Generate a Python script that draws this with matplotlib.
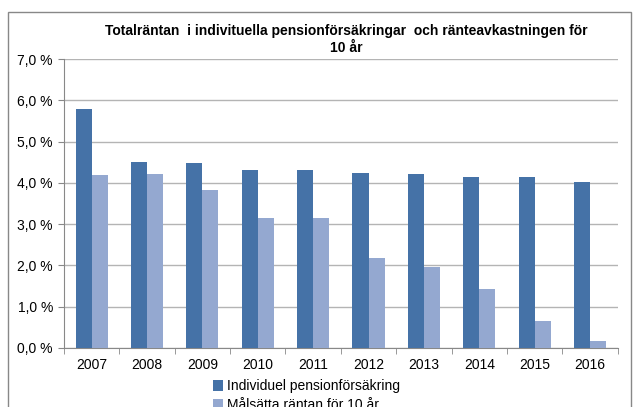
import numpy as np
import matplotlib.pyplot as plt
from matplotlib.patches import Rectangle

years = ['2007', '2008', '2009', '2010', '2011', '2012', '2013', '2014', '2015', '2016']
individuel = [5.78, 4.50, 4.47, 4.30, 4.30, 4.25, 4.22, 4.15, 4.15, 4.02]
malsatta = [4.20, 4.22, 3.82, 3.15, 3.15, 2.18, 1.95, 1.42, 0.65, 0.18]

plt.rcParams['font.family'] = ['Liberation Sans', 'DejaVu Sans']

fig = plt.figure(figsize=(6.35, 4.07), dpi=100)
ax = fig.add_axes([0.1008, 0.145, 0.872, 0.710])

x = np.arange(len(years))
w = 0.29
ax.bar(x - w/2, individuel, w, color='#4572A7', label='Individuel pensionförsäkring', zorder=3)
ax.bar(x + w/2, malsatta, w, color='#94A8D0', label='Målsätta räntan för 10 år', zorder=3)

ax.set_xlim(-0.5, len(years) - 0.5)
ax.set_ylim(0, 7)
ax.set_yticks(np.arange(0, 8, 1))
ax.set_yticklabels([f'{v:.1f} %'.replace('.', ',') for v in range(8)], fontsize=10)
ax.yaxis.grid(True, color='#B4B4B4', linewidth=1, zorder=0)
ax.set_xticks(x)
ax.set_xticklabels(years, fontsize=10)
ax.tick_params(axis='x', length=0, pad=7)
ax.set_xticks(np.arange(-0.5, len(years)), minor=True)
ax.tick_params(axis='x', which='minor', length=4, color='#888888')
ax.tick_params(axis='y', length=4, color='#888888', pad=4)
for s in ['top', 'right']:
    ax.spines[s].set_visible(False)
for s in ['left', 'bottom']:
    ax.spines[s].set_color('#888888')

fig.suptitle('Totalräntan  i indivituella pensionförsäkringar  och ränteavkastningen för\n10 år',
             x=0.545, y=0.942, fontsize=10, fontweight='bold', linespacing=1.3)

fig.legend(loc='upper left', bbox_to_anchor=(0.335, 0.068), frameon=False, fontsize=10,
           handlelength=0.75, handleheight=0.75, handletextpad=0.3, labelspacing=0.35,
           borderaxespad=0, borderpad=0)

fig.patches.append(Rectangle((0.013, -0.05), 0.98, 1.02, transform=fig.transFigure,
                             fill=False, edgecolor='#888888', linewidth=1))

fig.savefig('out.png', dpi=100)
